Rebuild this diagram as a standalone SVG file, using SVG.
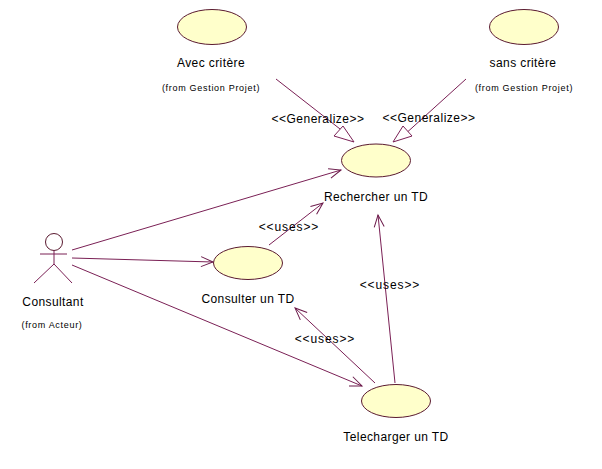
<svg xmlns="http://www.w3.org/2000/svg" width="602" height="469" viewBox="0 0 602 469">
<defs>
<marker id="open" markerUnits="userSpaceOnUse" markerWidth="16" markerHeight="14" refX="13" refY="6" orient="auto" viewBox="0 0 16 12"><path d="M1 1L13 6L1 11" fill="none" stroke="#6b1a4a" stroke-width="1"/></marker>
</defs>
<style>
text{font-family:"Liberation Sans",Arial,sans-serif;fill:#000;text-anchor:middle}
.l{font-size:12px;letter-spacing:.4px}
.s{font-size:9px;letter-spacing:.7px}
.st{font-size:12px;letter-spacing:.5px}
.u{font-size:12px;letter-spacing:.9px}
ellipse{fill:#ffffcb;stroke:#5a1a30;stroke-width:1}
.c{fill:none;stroke:#7a2055;stroke-width:1}
.a{fill:none;stroke:#7a2055;stroke-width:1;marker-end:url(#open)}
.tri{fill:#fff;stroke:#7a2055;stroke-width:1}
</style>
<rect width="602" height="469" fill="#fff"/>
<g id="connectors">
<path class="c" d="M276 79L349 136"/>
<path class="c" d="M466 79L403 136"/>
<path class="a" d="M72 250L341 170"/>
<path class="a" d="M72 258L213 262"/>
<path class="a" d="M72 265L362 386"/>
<path class="a" d="M269 245L323 203"/>
<path class="a" d="M375 383L295 308"/>
<path class="a" d="M395 383L378 215"/>
<polygon class="tri" points="354,142 334,136 343,126"/>
<polygon class="tri" points="393,142 412,136 403,126"/>
</g>
<g id="avec"><ellipse cx="212" cy="27" rx="34.500" ry="17.500"/><text class="l" x="211" y="67">Avec critère</text><text class="s" x="211" y="91">(from Gestion Projet)</text></g>
<g id="sans"><ellipse cx="524" cy="27" rx="34.500" ry="17.500"/><text class="l" x="523" y="67">sans critère</text><text class="s" x="524" y="91">(from Gestion Projet)</text></g>
<g id="rechercher"><ellipse cx="376" cy="160.500" rx="34.500" ry="16.500"/><text class="l" x="376" y="201">Rechercher un TD</text></g>
<g id="consulter"><ellipse cx="248" cy="263" rx="34.500" ry="16.500"/><text class="l" x="248" y="303">Consulter un TD</text></g>
<g id="telecharger"><ellipse cx="396" cy="401" rx="34.500" ry="16.500"/><text class="l" x="396" y="441">Telecharger un TD</text></g>
<g id="consultant">
<circle cx="54" cy="242" r="8.500" fill="#fff" stroke="#5a1a30"/>
<path class="c" d="M54 250.500V264M40 254H67M54 264L34 283M54 264L72 283"/>
<text class="l" x="53" y="306">Consultant</text>
<text class="s" x="52" y="328">(from Acteur)</text>
</g>
<g id="labels">
<text class="st" x="318" y="123">&lt;&lt;Generalize&gt;&gt;</text>
<text class="st" x="429" y="122">&lt;&lt;Generalize&gt;&gt;</text>
<text class="u" x="289" y="231">&lt;&lt;uses&gt;&gt;</text>
<text class="u" x="390" y="289">&lt;&lt;uses&gt;&gt;</text>
<text class="u" x="325" y="343">&lt;&lt;uses&gt;&gt;</text>
</g>
</svg>
